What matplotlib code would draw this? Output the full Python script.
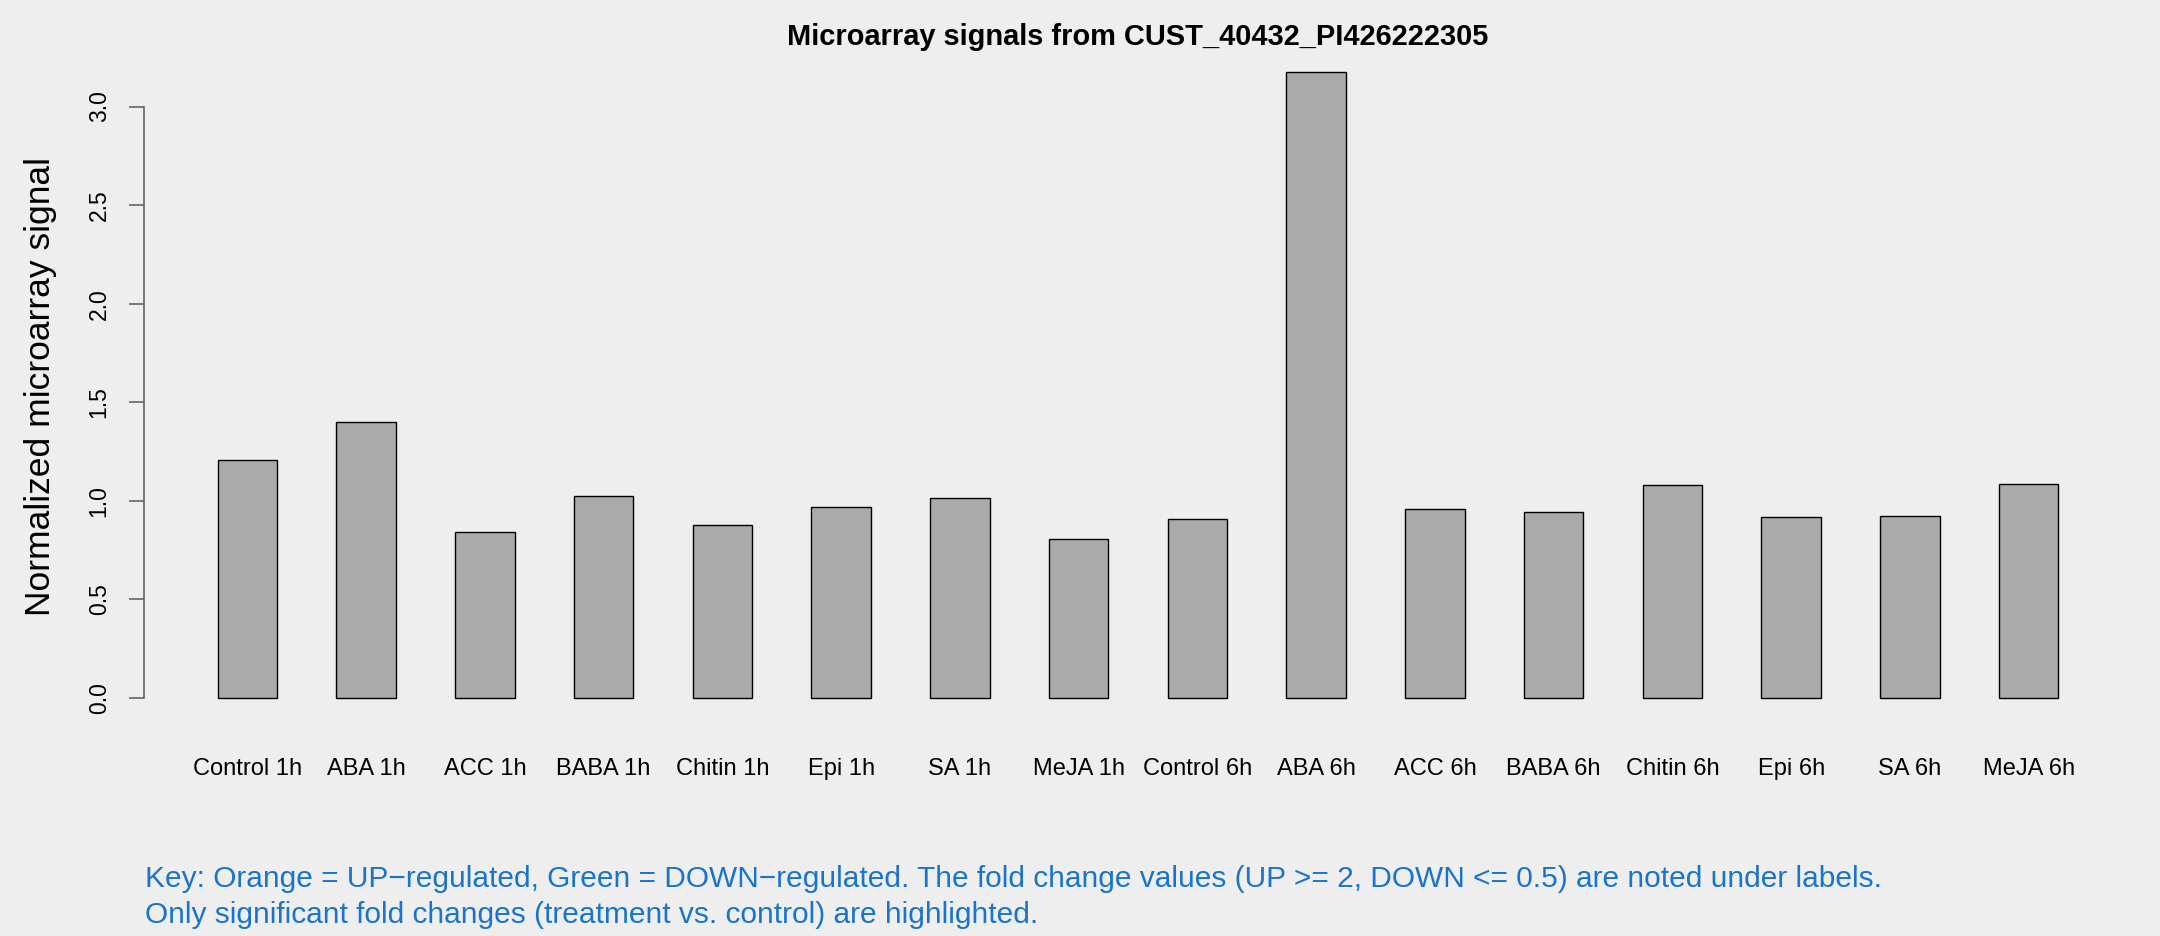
import matplotlib
matplotlib.use("Agg")
import matplotlib.pyplot as plt
import numpy as np

plt.rcParams['font.family'] = ['Liberation Sans', 'DejaVu Sans']

# data
labels = ['Control 1h', 'ABA 1h', 'ACC 1h', 'BABA 1h', 'Chitin 1h', 'Epi 1h',
          'SA 1h', 'MeJA 1h', 'Control 6h', 'ABA 6h', 'ACC 6h', 'BABA 6h',
          'Chitin 6h', 'Epi 6h', 'SA 6h', 'MeJA 6h']
signal = [1.208, 1.398, 0.843, 1.025, 0.878, 0.968,
          1.013, 0.806, 0.910, 3.175, 0.961, 0.943,
          1.082, 0.919, 0.921, 1.083]
yticks = [0.0, 0.5, 1.0, 1.5, 2.0, 2.5, 3.0]
title = 'Microarray signals from CUST_40432_PI426222305'
ylabel = 'Normalized microarray signal'
key_lines = ['Key: Orange = UP\u2212regulated, Green = DOWN\u2212regulated. The fold change values (UP >= 2, DOWN <= 0.5) are noted under labels.',
             'Only significant fold changes (treatment vs. control) are highlighted.']

bg = '#eeeeee'
W, H = 2160, 936
fig = plt.figure(figsize=(W / 100, H / 100), dpi=100, facecolor=bg)

# plot region in pixels (left, right, top, bottom)
L, R, T, B = 144, 2132, 47, 723
ax = fig.add_axes([L / W, 1 - B / H, (R - L) / W, (B - T) / H], facecolor=bg)

# R barplot style: width 1, space 1
x = np.arange(len(signal)) * 2 + 1.5
ax.bar(x, signal, width=1.0, color='#aaaaaa', edgecolor='black', linewidth=1.0)

n = len(signal)
span = 2 * n - 1
ax.set_xlim(1 - 0.04 * span, 2 * n + 0.04 * span)
ymax = max(signal)
ax.set_ylim(-0.04 * ymax, ymax * 1.04)

for s in ['top', 'right', 'bottom']:
    ax.spines[s].set_visible(False)
ax.spines['left'].set_bounds(0, 3)
ax.spines['left'].set_color('#666666')
ax.spines['left'].set_linewidth(1.2)

ax.set_yticks(yticks)
ax.set_yticklabels(['%.1f' % v for v in yticks], rotation=90, va='center')
ax.tick_params(axis='y', length=11, width=1.2, color='#666666', pad=13, labelsize=16.5)
ax.set_xticks(x)
ax.set_xticklabels(labels)
ax.tick_params(axis='x', length=0, pad=25, labelsize=17)

fig.text(41 / W, 1 - 386 / H, ylabel, rotation=90, ha='center', va='center', fontsize=25.5)
fig.text((L + R) / 2 / W, 1 - 37 / H, title, ha='center', va='center',
         fontsize=20.9, fontweight='bold')

for i, line in enumerate(key_lines):
    fig.text(145 / W, 1 - (879 + 36 * i) / H, line, ha='left', va='center',
             fontsize=21.5, color='#1874cd')

fig.savefig('out.png', dpi=100, facecolor=bg)
